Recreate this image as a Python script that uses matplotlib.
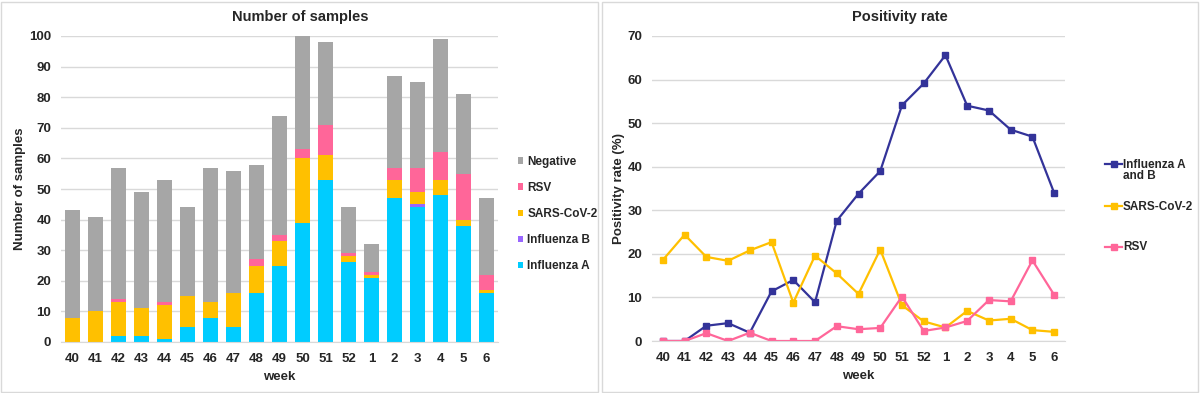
import matplotlib
matplotlib.use("Agg")
import matplotlib.pyplot as plt
from matplotlib.patches import Rectangle
from matplotlib.lines import Line2D
import numpy as np

plt.rcParams['font.family'] = ['Liberation Sans', 'DejaVu Sans']

weeks = ["40", "41", "42", "43", "44", "45", "46", "47", "48", "49", "50",
         "51", "52", "1", "2", "3", "4", "5", "6"]

# Number of samples (stacked)
influenza_a = [0, 0, 2, 2, 1, 5, 8, 5, 16, 25, 39, 53, 26, 21, 47, 44, 48, 38, 16]
influenza_b = [0, 0, 0, 0, 0, 0, 0, 0, 0, 0, 0, 0, 0, 0, 0, 1, 0, 0, 0]
sars_cov_2 = [8, 10, 11, 9, 11, 10, 5, 11, 9, 8, 21, 8, 2, 1, 6, 4, 5, 2, 1]
rsv = [0, 0, 1, 0, 1, 0, 0, 0, 2, 2, 3, 10, 1, 1, 4, 8, 9, 15, 5]
negative = [35, 31, 43, 38, 40, 29, 44, 40, 31, 39, 37, 27, 15, 9, 30, 28, 37, 26, 25]

# Positivity rate (%)
pos_flu = [0, 0, 3.5, 4.1, 1.9, 11.4, 14.0, 8.9, 27.6, 33.8, 39.0, 54.1, 59.1, 65.6, 54.0, 52.9, 48.5, 46.9, 34.0]
pos_sars = [18.6, 24.4, 19.3, 18.4, 20.8, 22.7, 8.8, 19.6, 15.5, 10.8, 21.0, 8.2, 4.5, 3.1, 6.9, 4.7, 5.1, 2.5, 2.1]
pos_rsv = [0, 0, 1.8, 0, 1.9, 0, 0, 0, 3.4, 2.7, 3.0, 10.2, 2.3, 3.1, 4.6, 9.4, 9.1, 18.5, 10.6]

C_FLUA = "#00CCFF"
C_FLUB = "#9966FF"
C_SARS = "#FFC000"
C_RSV = "#FF6699"
C_NEG = "#A6A6A6"
C_FLULINE = "#333399"
GRID = "#D9D9D9"
TXT = "#262626"

W, H = 1200, 393
fig = plt.figure(figsize=(W / 100, H / 100), dpi=100)

def fx(px):
    return px / W

def fy(py):
    return (H - py) / H

# panel borders
for x0, x1 in [(1, 598), (602, 1198)]:
    fig.patches.append(Rectangle((fx(x0), fy(H - 1)), (x1 - x0) / W, (H - 3) / H,
                                 transform=fig.transFigure, fill=False,
                                 edgecolor="#D9D9D9", linewidth=1.0))

def style(ax, ymax, ystep):
    ax.set_ylim(0, ymax)
    ax.set_yticks(np.arange(0, ymax + 1, ystep))
    ax.set_xlim(-0.5, len(weeks) - 0.5)
    ax.set_xticks(range(len(weeks)))
    ax.set_xticklabels(weeks)
    ax.grid(axis="y", color=GRID, linewidth=1)
    ax.set_axisbelow(True)
    for s in ["top", "right", "left"]:
        ax.spines[s].set_visible(False)
    ax.spines["bottom"].set_color(GRID)
    ax.tick_params(length=0, labelsize=9.5, colors=TXT)
    ax.tick_params(axis="y", pad=7)
    ax.tick_params(axis="x", pad=8)
    for lab in ax.get_xticklabels() + ax.get_yticklabels():
        lab.set_fontweight("bold")
    ax.set_xlabel("week", fontsize=9.5, fontweight="bold", color=TXT, labelpad=4)

x = np.arange(len(weeks))

# Left chart
ax1 = fig.add_axes([fx(61), fy(342), 437 / W, (342 - 36) / H])
bw = 0.68
b0 = np.zeros(len(weeks))
series = [("Influenza A", influenza_a, C_FLUA), ("Influenza B", influenza_b, C_FLUB),
          ("SARS-CoV-2", sars_cov_2, C_SARS), ("RSV", rsv, C_RSV), ("Negative", negative, C_NEG)]
handles = []
for name, vals, col in series:
    h = ax1.bar(x, vals, bw, bottom=b0, color=col, label=name, linewidth=0)
    handles.append(h)
    b0 = b0 + np.array(vals)
style(ax1, 100, 10)
ax1.set_ylabel("Number of samples", fontsize=9.5, fontweight="bold", color=TXT, labelpad=2)
fig.text(fx(300), fy(17), "Number of samples", fontsize=10.5, fontweight="bold",
         color=TXT, ha="center", va="center")
leg1 = ax1.legend(handles[::-1], [s[0] for s in series][::-1], loc="center left",
                  bbox_to_anchor=(fx(518), fy(214)), bbox_transform=fig.transFigure,
                  frameon=False, fontsize=8.5, borderpad=0, borderaxespad=0,
                  handlelength=0.45, handleheight=0.45, handletextpad=0.35, labelspacing=1.2)
for t in leg1.get_texts():
    t.set_fontweight("bold")
    t.set_color(TXT)

# Right chart
ax2 = fig.add_axes([fx(652), fy(341), 413 / W, (341 - 36) / H])
ax2.plot(x, pos_flu, color=C_FLULINE, marker="s", markersize=3.8, linewidth=1.6)
ax2.plot(x, pos_sars, color=C_SARS, marker="s", markersize=3.8, linewidth=1.6)
ax2.plot(x, pos_rsv, color=C_RSV, marker="s", markersize=3.8, linewidth=1.6)
style(ax2, 70, 10)
ax2.set_ylabel("Positivity rate (%)", fontsize=9.5, fontweight="bold", color=TXT, labelpad=2)
fig.text(fx(900), fy(17), "Positivity rate", fontsize=10.5, fontweight="bold",
         color=TXT, ha="center", va="center")

# Right legend (Excel-style: handle aligned with first text line)
leg_items = [("Influenza A\nand B", C_FLULINE, 164), ("SARS-CoV-2", C_SARS, 206), ("RSV", C_RSV, 247)]
for label, col, py in leg_items:
    fig.add_artist(Line2D([fx(1105), fx(1122)], [fy(py), fy(py)], color=col, linewidth=1.6,
                          transform=fig.transFigure))
    fig.add_artist(Line2D([fx(1113.5)], [fy(py)], color=col, marker="s", markersize=3.8,
                          linestyle="none", transform=fig.transFigure))
    fig.text(fx(1123), fy(py - 5.5), label, fontsize=8.5, fontweight="bold", color=TXT,
             ha="left", va="top", linespacing=0.95)

fig.savefig("out.png", dpi=100)
